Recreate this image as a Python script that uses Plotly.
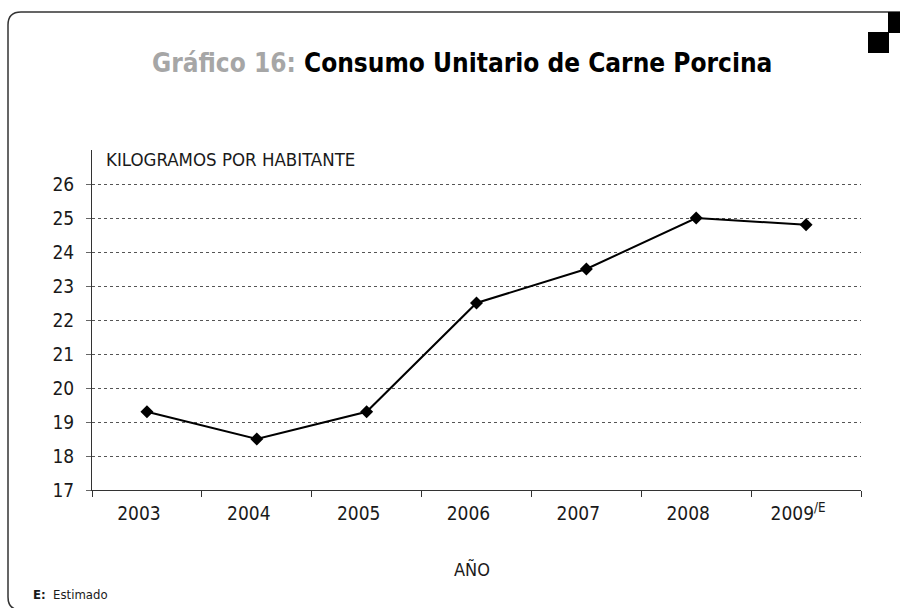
import plotly.graph_objects as go

years = ["2003", "2004", "2005", "2006", "2007", "2008", "2009"]
tick_labels = ["2003", "2004", "2005", "2006", "2007", "2008", "2009<sup>/E</sup>"]
consumo = [19.3, 18.5, 19.3, 22.5, 23.5, 25.0, 24.8]
y_ticks = [17, 18, 19, 20, 21, 22, 23, 24, 25, 26]

W, H = 900, 608
# plot area in screen pixels
SL, SR, ST, SB = 92, 861, 150, 490
ML, MT = SL, ST
MR, MB = W - SR, H - SB
PW, PH = SR - SL, SB - ST

def px(x):
    return (x - SL) / PW

def py(y):
    return (SB - y) / PH

FONT = "DejaVu Sans Condensed, Liberation Sans Narrow, Arial Narrow, sans-serif"

fig = go.Figure()
fig.add_trace(go.Scatter(
    x=years, y=consumo, mode="lines+markers",
    line=dict(color="black", width=2),
    marker=dict(symbol="diamond", size=10, color="black"),
    cliponaxis=False, showlegend=False,
))

border = (f"M {px(910)},{py(12)} L {px(21)},{py(12)} Q {px(8)},{py(12)} {px(8)},{py(25)} "
          f"L {px(8)},{py(597)} Q {px(8)},{py(610)} {px(21)},{py(610)} L {px(910)},{py(610)}")

shapes = [
    dict(type="path", xref="paper", yref="paper", path=border,
         line=dict(color="#333333", width=1.5)),
    dict(type="rect", xref="paper", yref="paper", x0=px(888), x1=px(910), y0=py(12), y1=py(33),
         fillcolor="black", line=dict(width=0)),
    dict(type="rect", xref="paper", yref="paper", x0=px(868), x1=px(889), y0=py(32), y1=py(53),
         fillcolor="black", line=dict(width=0)),
]

annotations = [
    dict(xref="paper", yref="paper", x=px(462), y=py(63), xanchor="center", yanchor="middle",
         showarrow=False,
         text="<b><span style='color:#a6a6a6'>Gráfico 16:</span> Consumo Unitario de Carne Porcina</b>",
         font=dict(family=FONT, size=26, color="black")),
    dict(xref="paper", yref="paper", x=px(104), y=py(159), xanchor="left", yanchor="middle",
         showarrow=False, text="KILOGRAMOS POR HABITANTE",
         font=dict(family=FONT, size=18.5, color="#1a1a1a")),
    dict(xref="paper", yref="paper", x=px(472), y=py(569), xanchor="center", yanchor="middle",
         showarrow=False, text="AÑO",
         font=dict(family=FONT, size=18, color="#1a1a1a")),
    dict(xref="paper", yref="paper", x=px(31), y=py(594), xanchor="left", yanchor="middle",
         showarrow=False, text="<b>E:</b>  Estimado",
         font=dict(family=FONT, size=13, color="#1a1a1a")),
]

fig.update_layout(
    width=W, height=H,
    margin=dict(l=ML, r=MR, t=MT, b=MB, pad=0),
    paper_bgcolor="white", plot_bgcolor="white",
    shapes=shapes, annotations=annotations,
    font=dict(family=FONT, color="#1a1a1a"),
)

fig.update_xaxes(
    type="category", range=[-0.5, 6.5],
    tickvals=years, ticktext=tick_labels,
    tickson="boundaries", ticks="outside", ticklen=6, tickcolor="#333333",
    showline=True, linecolor="#333333", linewidth=1,
    showgrid=False, zeroline=False,
    tickfont=dict(family=FONT, size=19, color="#1a1a1a"),
    ticklabelshift=-8, ticklabelstandoff=6,
)
fig.update_yaxes(
    range=[17, 27], tickvals=y_ticks,
    ticks="outside", ticklen=5, tickcolor="#666666",
    showline=True, linecolor="#333333", linewidth=1,
    showgrid=True, gridcolor="#555555", gridwidth=1, griddash="dot",
    zeroline=False,
    tickfont=dict(family=FONT, size=19, color="#1a1a1a"),
    ticklabelstandoff=8,
)

fig.write_html(
    "out.html",
    config={"displayModeBar": False},
    post_script="document.body.style.margin='0';document.body.style.overflow='hidden';",
)
